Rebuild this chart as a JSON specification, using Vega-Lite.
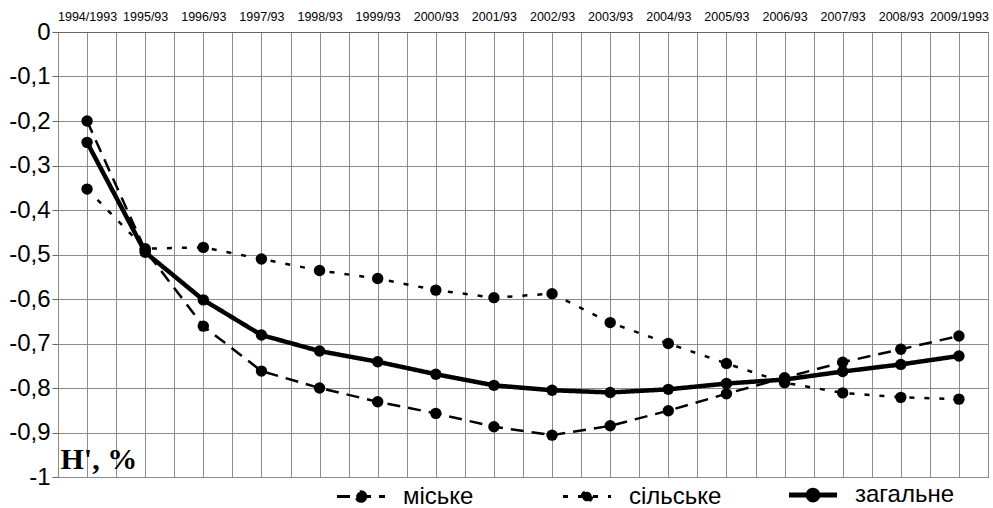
{
  "$schema": "https://vega.github.io/schema/vega-lite/v6.json",
  "autosize": {"type": "none"},
  "padding": {"left": 58, "top": 32, "right": 5, "bottom": 31},
  "width": 930,
  "height": 445,
  "background": "white",
  "config": {
    "font": "Liberation Sans",
    "view": {"stroke": "#555", "strokeWidth": 1}
  },
  "data": {
    "values": [
      {"year": 1994, "series": "міське", "value": -0.2},
      {"year": 1995, "series": "міське", "value": -0.49},
      {"year": 1996, "series": "міське", "value": -0.661},
      {"year": 1997, "series": "міське", "value": -0.762},
      {"year": 1998, "series": "міське", "value": -0.8},
      {"year": 1999, "series": "міське", "value": -0.831},
      {"year": 2000, "series": "міське", "value": -0.857},
      {"year": 2001, "series": "міське", "value": -0.887},
      {"year": 2002, "series": "міське", "value": -0.906},
      {"year": 2003, "series": "міське", "value": -0.885},
      {"year": 2004, "series": "міське", "value": -0.851},
      {"year": 2005, "series": "міське", "value": -0.813},
      {"year": 2006, "series": "міське", "value": -0.777},
      {"year": 2007, "series": "міське", "value": -0.742},
      {"year": 2008, "series": "міське", "value": -0.713},
      {"year": 2009, "series": "міське", "value": -0.683},
      {"year": 1994, "series": "сільське", "value": -0.353},
      {"year": 1995, "series": "сільське", "value": -0.487},
      {"year": 1996, "series": "сільське", "value": -0.484},
      {"year": 1997, "series": "сільське", "value": -0.51},
      {"year": 1998, "series": "сільське", "value": -0.536},
      {"year": 1999, "series": "сільське", "value": -0.554},
      {"year": 2000, "series": "сільське", "value": -0.58},
      {"year": 2001, "series": "сільське", "value": -0.597},
      {"year": 2002, "series": "сільське", "value": -0.588},
      {"year": 2003, "series": "сільське", "value": -0.653},
      {"year": 2004, "series": "сільське", "value": -0.7},
      {"year": 2005, "series": "сільське", "value": -0.745},
      {"year": 2006, "series": "сільське", "value": -0.788},
      {"year": 2007, "series": "сільське", "value": -0.811},
      {"year": 2008, "series": "сільське", "value": -0.821},
      {"year": 2009, "series": "сільське", "value": -0.825},
      {"year": 1994, "series": "загальне", "value": -0.248},
      {"year": 1995, "series": "загальне", "value": -0.495},
      {"year": 1996, "series": "загальне", "value": -0.602},
      {"year": 1997, "series": "загальне", "value": -0.681},
      {"year": 1998, "series": "загальне", "value": -0.717},
      {"year": 1999, "series": "загальне", "value": -0.741},
      {"year": 2000, "series": "загальне", "value": -0.769},
      {"year": 2001, "series": "загальне", "value": -0.794},
      {"year": 2002, "series": "загальне", "value": -0.805},
      {"year": 2003, "series": "загальне", "value": -0.81},
      {"year": 2004, "series": "загальне", "value": -0.803},
      {"year": 2005, "series": "загальне", "value": -0.79},
      {"year": 2006, "series": "загальне", "value": -0.781},
      {"year": 2007, "series": "загальне", "value": -0.763},
      {"year": 2008, "series": "загальне", "value": -0.747},
      {"year": 2009, "series": "загальне", "value": -0.728}
    ]
  },
  "encoding": {
    "x": {
      "field": "year",
      "type": "quantitative",
      "scale": {"domain": [1993.5, 2009.5], "nice": false, "zero": false},
      "axis": {
        "orient": "top",
        "title": null,
        "values": [1993.5, 1994, 1994.5, 1995, 1995.5, 1996, 1996.5, 1997, 1997.5, 1998, 1998.5, 1999, 1999.5, 2000, 2000.5, 2001, 2001.5, 2002, 2002.5, 2003, 2003.5, 2004, 2004.5, 2005, 2005.5, 2006, 2006.5, 2007, 2007.5, 2008, 2008.5, 2009, 2009.5],
        "labelExpr": "datum.value == 1994 ? '1994/1993' : datum.value == 2009 ? '2009/1993' : (datum.value % 1 == 0 ? datum.value + '/93' : '')",
        "labelOverlap": false,
        "labelBound": false,
        "labelFlush": false,
        "labelFontSize": 12.5,
        "labelColor": "black",
        "labelPadding": 9,
        "ticks": false,
        "domain": true,
        "domainColor": "#666",
        "grid": true,
        "gridColor": "#8c8c8c",
        "gridWidth": 1
      }
    },
    "y": {
      "field": "value",
      "type": "quantitative",
      "scale": {"domain": [-1, 0], "nice": false, "zero": false},
      "axis": {
        "values": [0, -0.1, -0.2, -0.3, -0.4, -0.5, -0.6, -0.7, -0.8, -0.9, -1],
        "labelExpr": "datum.value == 0 ? '0' : datum.value == -1 ? '-1' : '-0,' + round(-datum.value * 10)",
        "labelFontSize": 24,
        "labelColor": "black",
        "labelPadding": 2,
        "tickSize": 6,
        "tickColor": "#666",
        "domain": false,
        "grid": true,
        "gridColor": "#8c8c8c",
        "gridWidth": 1,
        "title": "H', %",
        "titleFont": "Liberation Serif",
        "titleFontWeight": "bold",
        "titleFontSize": 30,
        "titleColor": "black",
        "titleAngle": 0,
        "titleAlign": "left",
        "titleBaseline": "alphabetic",
        "titleX": 2,
        "titleY": 436
      }
    }
  },
  "layer": [
    {
      "mark": {"type": "line", "color": "black", "strokeCap": "butt"},
      "encoding": {
        "detail": {"field": "series"},
        "strokeDash": {
          "field": "series",
          "type": "nominal",
          "scale": {"domain": ["міське", "сільське", "загальне"], "range": [[13, 8], [5, 10], [1, 0]]},
          "legend": {
            "title": null,
            "orient": "none",
            "legendX": 291,
            "legendY": 451,
            "direction": "horizontal",
            "columns": 3,
            "gridAlign": "all",
            "columnPadding": 50,
            "symbolType": "M-1,0L1,0M0.2,0A0.2,0.2,0,1,1,-0.2,0A0.2,0.2,0,1,1,0.2,0Z",
            "symbolSize": 2304,
            "symbolStrokeColor": "black",
            "symbolFillColor": "black",
            "labelFontSize": 24,
            "labelColor": "black",
            "labelOffset": 30,
            "labelLimit": 300,
            "encode": {
              "symbols": {
                "update": {
                  "fill": {"value": "black"},
                  "stroke": {"value": "black"},
                  "strokeWidth": {"signal": "datum.value === 'загальне' ? 5 : 3"}
                }
              }
            }
          }
        },
        "strokeWidth": {
          "condition": {"test": "datum.series === 'загальне'", "value": 4.5},
          "value": 2.5
        }
      }
    },
    {
      "mark": {"type": "point", "filled": true, "color": "black", "size": 130, "opacity": 1},
      "encoding": {}
    }
  ]
}
